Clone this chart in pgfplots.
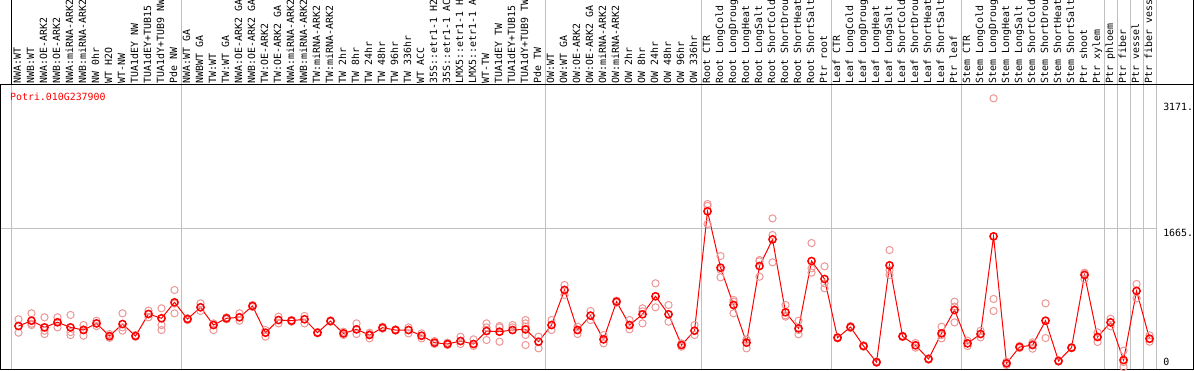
\documentclass[border=0pt]{standalone}
\usepackage{fontspec}
\usepackage{pgfplots}
\pgfplotsset{compat=1.18}
\usepackage{pgfplotstable}
\newfontfamily\monofont{DejaVu Sans Mono}
\newcommand{\mf}{\monofont\fontsize{9.9}{12}\selectfont}
\definecolor{gridgray}{RGB}{192,192,192}
\definecolor{reppink}{RGB}{236,150,150}

\pgfplotstableread{
x y
0 492
1 556
2 476
3 537
4 476
5 444
6 524
7 372
8 516
9 372
10 637
11 585
12 777
13 576
14 717
15 504
16 585
17 597
18 733
19 412
20 564
21 556
22 573
23 412
24 552
25 404
26 452
27 384
28 472
29 444
30 444
31 376
32 292
33 276
34 312
35 276
36 432
37 424
38 444
39 452
40 304
41 504
42 925
43 444
44 617
45 332
46 785
47 504
48 633
49 849
50 633
51 264
52 436
53 1870
54 1193
55 745
56 292
57 1213
58 1533
59 657
60 464
61 1273
62 1057
63 352
64 480
65 252
66 58
67 1221
68 368
69 260
70 96
71 404
72 685
73 284
74 396
75 1569
76 44
77 240
78 264
79 556
80 72
81 232
82 1105
83 360
84 536
85 84
86 913
87 340
}\means

\pgfplotstableread{
x y
0 573
0 492
0 412
1 645
1 520
1 504
2 597
2 436
2 396
3 597
3 537
3 476
4 625
4 420
4 384
5 504
5 452
5 376
6 556
6 524
6 492
7 396
7 364
7 350
8 645
8 476
8 436
9 384
9 372
9 364
10 677
10 637
10 597
11 705
11 585
11 504
11 444
12 925
12 761
12 645
13 585
13 576
13 564
14 765
14 717
14 673
15 524
15 504
15 444
16 597
16 585
16 573
17 645
17 597
17 556
18 745
18 733
18 721
19 444
19 412
19 364
20 605
20 564
20 524
21 564
21 556
21 544
22 613
22 573
22 524
23 420
23 412
23 404
24 560
24 552
24 544
25 424
25 404
25 384
26 524
26 452
26 396
27 412
27 396
27 344
28 484
28 472
28 460
29 452
29 444
29 436
30 476
30 444
30 404
31 404
31 376
31 344
32 312
32 292
32 276
33 292
33 276
33 264
34 364
34 312
34 276
35 332
35 276
35 252
36 524
36 476
36 432
36 324
37 492
37 476
37 424
37 304
38 504
38 476
38 444
39 564
39 524
39 484
39 384
39 264
40 364
40 304
40 224
41 564
41 504
41 444
42 985
42 925
42 865
43 484
43 444
43 396
44 673
44 617
44 564
45 384
45 332
45 284
46 797
46 785
46 773
47 564
47 504
47 452
48 705
48 669
48 524
49 1005
49 849
49 717
50 745
50 633
50 544
51 284
51 264
51 244
52 504
52 436
52 384
53 1958
53 1935
53 1717
54 1333
54 1169
54 1077
55 805
55 785
55 645
56 324
56 328
56 224
57 1285
57 1269
57 1085
58 1785
58 1585
58 1257
59 745
59 621
59 605
60 556
60 444
60 392
61 1489
61 1185
61 1133
62 1209
62 1005
62 945
63 360
63 352
63 344
64 492
64 480
64 468
65 260
65 252
65 244
66 68
66 60
66 52
67 1405
67 1165
67 1105
68 376
68 368
68 360
69 288
69 260
69 232
70 104
70 96
70 88
71 484
71 384
71 344
72 785
72 725
72 536
73 316
73 284
73 252
74 436
74 396
74 356
75 3227
75 817
75 673
76 64
76 44
76 24
77 252
77 240
77 228
78 296
78 276
78 220
79 765
79 556
79 348
80 80
80 72
80 64
81 240
81 232
81 224
82 1133
82 1125
82 1057
83 416
83 364
83 300
84 580
84 540
84 488
85 196
85 60
85 0
86 997
86 917
86 825
87 380
87 336
87 304
}\reps

\begin{document}
\begin{tikzpicture}
\path[use as bounding box] (0pt,0pt) rectangle (1194pt,370pt);
\begin{axis}[
  at={(1pt,1pt)}, anchor=south west,
  scale only axis, width=1192pt, height=284pt,
  xmin=-1.346, xmax=90.346, ymin=-24, ymax=3387,
  axis line style={black, line width=1pt},
  axis on top,
  clip=false,
  ytick=\empty,
  xtick={0,...,87},
  major tick length=0pt,
  xticklabel pos=upper,
  xticklabel shift=1.5pt,
  xticklabel style={rotate=90, anchor=west, inner sep=0pt, font=\mf, text height=7pt, text depth=2pt},
  xticklabels={NWA:WT,NWB:WT,NWA:OE-ARK2,NWB:OE-ARK2,NWA:miRNA-ARK2,NWB:miRNA-ARK2,NW 0hr,WT H2O,WT-NW,TUA1dEY NW,TUA1dEY+TUB15,TUA1dY+TUB9 NW,Pde NW,NWA:WT GA,NWBWT GA,TW:WT,TW:WT GA,NWA:OE-ARK2 GA,NWB:OE-ARK2 GA,TW:OE-ARK2,TW:OE-ARK2 GA,NWA:miRNA-ARK2,NWB:miRNA-ARK2,TW:miRNA-ARK2,TW:miRNA-ARK2,TW 2hr,TW 8hr,TW 24hr,TW 48hr,TW 96hr,TW 336hr,WT ACC,35S::etr1-1 H2,35S::etr1-1 AC,LMX5::etr1-1 H,LMX5::etr1-1 A,WT-TW,TUA1dEY TW,TUA1dEY+TUB15,TUA1dY+TUB9 TW,Pde TW,OW:WT,OW:WT GA,OW:OE-ARK2,OW:OE-ARK2 GA,OW:miRNA-ARK2,OW:miRNA-ARK2,OW 2hr,OW 8hr,OW 24hr,OW 48hr,OW 96hr,OW 336hr,Root CTR,Root LongCold,Root LongDroug,Root LongHeat,Root LongSalt,Root ShortCold,Root ShortDrou,Root ShortHeat,Root ShortSalt,Ptr root,Leaf CTR,Leaf LongCold,Leaf LongDroug,Leaf LongHeat,Leaf LongSalt,Leaf ShortCold,Leaf ShortDrou,Leaf ShortHeat,Leaf ShortSalt,Ptr leaf,Stem CTR,Stem LongCold,Stem LongDroug,Stem LongHeat,Stem LongSalt,Stem ShortCold,Stem ShortDrou,Stem ShortHeat,Stem ShortSalt,Ptr shoot,Ptr xylem,Ptr phloem,Ptr fiber,Ptr vessel,Ptr fiber vess},
]
\pgfplotsinvokeforeach{-0.5,12.5,40.5,52.5,62.5,72.5,83.5,84.5,85.5,86.5,87.5}{
  \draw[gridgray, line width=1pt] (axis cs:#1,-24) -- (axis cs:#1,4408);
}
\draw[gridgray, line width=1pt] (axis cs:-1.423,1665) -- (axis cs:87.5,1665);
\draw[black, line width=1pt] (axis cs:-0.5,3387) -- (axis cs:-0.5,4408);
\draw[black, line width=1pt] (axis cs:90.346,3387) -- (axis cs:90.346,4408);

\addplot[only marks, mark=o, mark size=3.6pt, reppink, mark options={line width=1pt}] table {\reps};
\addplot[red, line width=1pt, mark=o, mark size=3.6pt, mark options={line width=1.5pt, red}] table {\means};

\node[anchor=west, text=red, inner sep=0pt, font=\mf] at (axis cs:-0.654,3246) {Potri.010G237900};
\node[anchor=west, inner sep=0pt, font=\mf] at (axis cs:88.04,3123) {3171.};
\node[anchor=west, inner sep=0pt, font=\mf] at (axis cs:88.04,1613) {1665.};
\node[anchor=west, inner sep=0pt, font=\mf] at (axis cs:88.04,60) {0};
\end{axis}
\end{tikzpicture}
\end{document}
